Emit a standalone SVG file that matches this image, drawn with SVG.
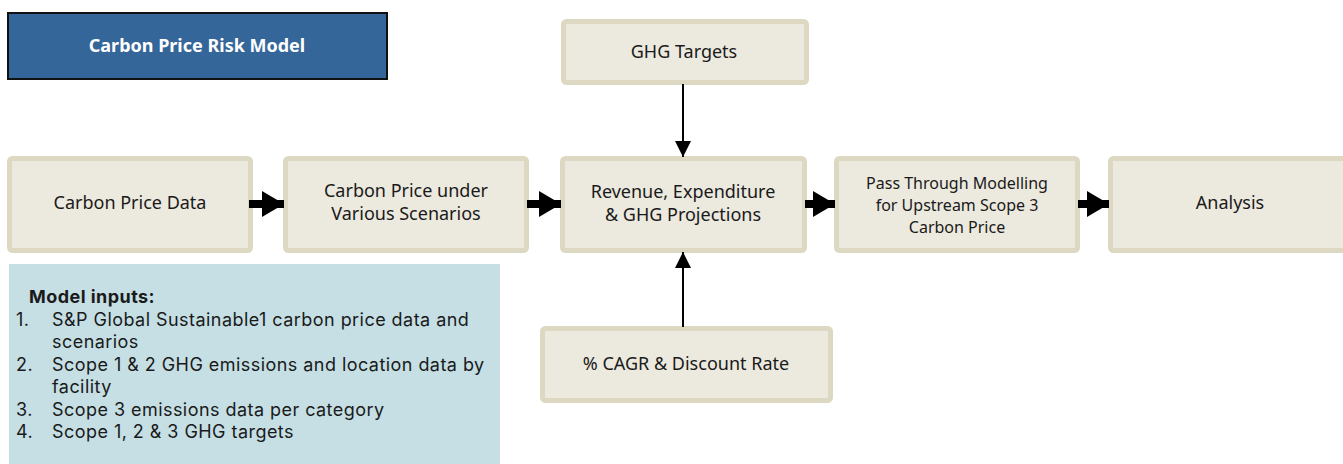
<svg xmlns="http://www.w3.org/2000/svg" width="1343" height="464" viewBox="0 0 1343 464">
<style>
.box{fill:#ecE9de;stroke:#ddd8c2;stroke-width:5}
.t{font-family:"Noto Sans","Open Sans",sans-serif;font-size:18px;fill:#1a1a1a;text-anchor:middle}
.ts{font-size:16px}
.mi{font-family:Inter,"Noto Sans",sans-serif;font-size:18px;letter-spacing:0.45px;fill:#1a1a1a}
.thick{stroke:#000;stroke-width:8;fill:none}
.thin{stroke:#000;stroke-width:2;fill:none}
</style>
<defs>
<marker id="bh" markerUnits="userSpaceOnUse" markerWidth="24" markerHeight="26" refX="22" refY="13" orient="auto">
<path d="M0,0 L22,13 L0,26 Z" fill="#000"/>
</marker>
<marker id="sh" markerUnits="userSpaceOnUse" markerWidth="16" markerHeight="16" refX="16" refY="8" orient="auto">
<path d="M0,0 L16,8 L0,16 Z" fill="#000"/>
</marker>
</defs>
<rect width="1343" height="464" fill="#fff"/>
<g id="title">
<rect x="8" y="13" width="379" height="66" fill="#346699" stroke="#111" stroke-width="2"/>
<text x="197" y="52" font-family="'Noto Sans','Open Sans',sans-serif" font-size="18" font-weight="bold" fill="#fff" text-anchor="middle">Carbon Price Risk Model</text>
</g>
<g id="ghg-targets">
<rect class="box" x="563.5" y="21.5" width="243" height="61" rx="3"/>
<text class="t" x="684" y="58">GHG Targets</text>
</g>
<g id="carbon-price-data">
<rect class="box" x="9.5" y="158.5" width="241" height="92" rx="3"/>
<text class="t" x="130" y="209">Carbon Price Data</text>
</g>
<g id="carbon-price-scenarios">
<rect class="box" x="285.5" y="158.5" width="241" height="92" rx="3"/>
<text class="t" x="406" y="197">Carbon Price under</text>
<text class="t" x="406" y="220">Various Scenarios</text>
</g>
<g id="projections">
<rect class="box" x="562.5" y="158.5" width="242" height="92" rx="3"/>
<text class="t" x="683" y="198">Revenue, Expenditure</text>
<text class="t" x="683" y="221">&amp; GHG Projections</text>
</g>
<g id="pass-through">
<rect class="box" x="836.5" y="158.5" width="241" height="92" rx="3"/>
<text class="t ts" x="957" y="189">Pass Through Modelling</text>
<text class="t ts" x="957" y="211">for Upstream Scope 3</text>
<text class="t ts" x="957" y="233">Carbon Price</text>
</g>
<g id="analysis">
<rect class="box" x="1110.5" y="158.5" width="241" height="92" rx="3"/>
<text class="t" x="1230" y="209">Analysis</text>
</g>
<g id="cagr">
<rect class="box" x="542.5" y="328.5" width="288" height="72" rx="3"/>
<text class="t" x="686" y="370">% CAGR &amp; Discount Rate</text>
</g>
<g id="model-inputs">
<rect x="9" y="264" width="491" height="200" fill="#c5dfe5"/>
<text class="mi" x="29" y="303" font-weight="bold" font-size="17" letter-spacing="0.3">Model inputs:</text>
<text class="mi" x="16" y="326">1.</text>
<text class="mi" x="52" y="326">S&amp;P Global Sustainable1 carbon price data and</text>
<text class="mi" x="52" y="348">scenarios</text>
<text class="mi" x="16" y="371">2.</text>
<text class="mi" x="52" y="371">Scope 1 &amp; 2 GHG emissions and location data by</text>
<text class="mi" x="52" y="393">facility</text>
<text class="mi" x="16" y="416">3.</text>
<text class="mi" x="52" y="416">Scope 3 emissions data per category</text>
<text class="mi" x="16" y="438">4.</text>
<text class="mi" x="52" y="438">Scope 1, 2 &amp; 3 GHG targets</text>
</g>
<g id="connectors">
<line class="thick" x1="249" y1="204" x2="284" y2="204" marker-end="url(#bh)"/>
<line class="thick" x1="527" y1="204" x2="561" y2="204" marker-end="url(#bh)"/>
<line class="thick" x1="805" y1="204" x2="835" y2="204" marker-end="url(#bh)"/>
<line class="thick" x1="1078" y1="204" x2="1109" y2="204" marker-end="url(#bh)"/>
<line class="thin" x1="683" y1="84" x2="683" y2="157" marker-end="url(#sh)"/>
<line class="thin" x1="683" y1="327" x2="683" y2="252" marker-end="url(#sh)"/>
</g>
</svg>
